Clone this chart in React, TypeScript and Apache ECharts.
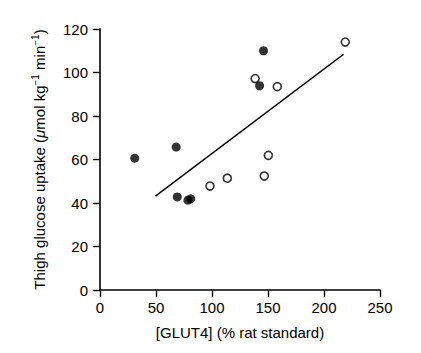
import React, { useEffect, useRef } from "react";
import * as echarts from "echarts";

// GLUT4 content vs thigh glucose uptake
const filledPoints: [number, number][] = [
  [31, 60.6],
  [68, 65.7],
  [69, 42.8],
  [78.5, 41.3],
  [81, 41.9],
  [146, 110],
  [142.5, 93.9],
];
const openPoints: [number, number][] = [
  [219, 114],
  [138.5, 97.2],
  [158.3, 93.5],
  [150.3, 61.9],
  [146.7, 52.4],
  [113.7, 51.4],
  [98.2, 47.8],
];
const fitLine: [number, number][] = [
  [49.5, 43.2],
  [217.5, 108.4],
];
const xTicks = [0, 50, 100, 150, 200, 250];
const yTicks = [0, 20, 40, 60, 80, 100, 120];

const font = "'Liberation Sans', Arial, Helvetica, sans-serif";

export default function App() {
  const ref = useRef<HTMLDivElement>(null);
  useEffect(() => {
    if (!ref.current) return;
    const chart = echarts.init(ref.current, undefined, { renderer: "svg" });
    const axisCommon = {
      axisLine: { show: true, onZero: false, lineStyle: { color: "#000", width: 1.6 } },
      axisTick: { show: true, inside: false, length: 7, lineStyle: { color: "#000", width: 1.4 } },
      splitLine: { show: false },
    };
    chart.setOption({
      animation: false,
      backgroundColor: "#fff",
      grid: { left: 100, right: 41, top: 29, bottom: 63 },
      xAxis: {
        type: "value",
        min: xTicks[0],
        max: xTicks[xTicks.length - 1],
        interval: 50,
        ...axisCommon,
        axisLabel: { color: "#000", fontSize: 15, fontFamily: font, margin: 10 },
        name: "[GLUT4] (% rat standard)",
        nameLocation: "middle",
        nameGap: 35,
        nameTextStyle: { color: "#000", fontSize: 15, fontFamily: font },
      },
      yAxis: {
        type: "value",
        min: yTicks[0],
        max: yTicks[yTicks.length - 1],
        interval: 20,
        ...axisCommon,
        axisLabel: { color: "#000", fontSize: 15, fontFamily: font, margin: 12 },
        name: "{a|Thigh glucose uptake (}{mu|μ}{a|mol kg}{sup|−1}{a| min}{sup|−1}{a|)}",
        nameLocation: "middle",
        nameGap: 51,
        nameTextStyle: {
          color: "#000",
          fontSize: 15,
          fontFamily: font,
          rich: {
            a: { fontSize: 15, fontFamily: font, color: "#000", lineHeight: 19 },
            mu: { fontSize: 15, fontFamily: font, color: "#000", fontStyle: "italic", lineHeight: 19 },
            sup: { fontSize: 10, fontFamily: font, color: "#000", verticalAlign: "top", lineHeight: 19 },
          },
        },
      },
      series: [
        {
          type: "line",
          data: fitLine,
          symbol: "none",
          lineStyle: { color: "#000", width: 1.5 },
          z: 1,
        },
        {
          type: "scatter",
          data: openPoints,
          symbol: "circle",
          symbolSize: 8,
          itemStyle: { color: "#fff", borderColor: "#000", borderWidth: 1.6 },
          z: 2,
        },
        {
          type: "scatter",
          data: filledPoints,
          symbol: "circle",
          symbolSize: 9,
          itemStyle: { color: "#000" },
          z: 3,
        },
      ],
    });
    return () => chart.dispose();
  }, []);
  return (
    <div
      ref={ref}
      style={{ position: "fixed", left: 0, top: 0, width: 421, height: 353, background: "#fff" }}
    />
  );
}
